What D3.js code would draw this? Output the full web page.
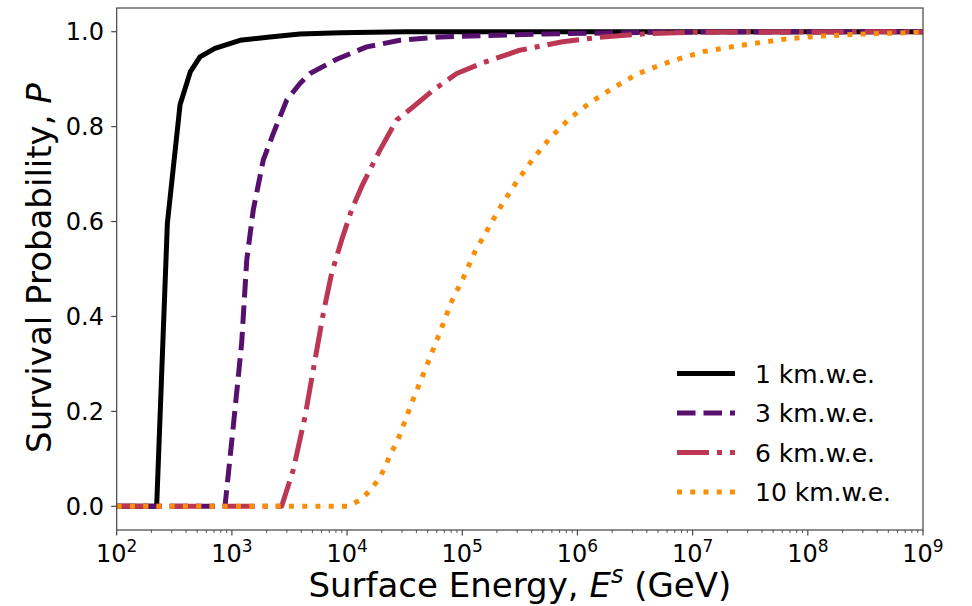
<!DOCTYPE html>
<html><head><meta charset="utf-8">
<script src="https://cdn.jsdelivr.net/npm/d3@7"></script>
<style>
html,body{margin:0;padding:0;background:#fff;}
svg{display:block;font-family:"DejaVu Sans",sans-serif;}
</style></head>
<body><svg id="c" width="972" height="606"></svg>
<script>
// ---- data (log10 of surface energy in GeV, survival probability) ----
const seriesNames = ["1 km.w.e.", "3 km.w.e.", "6 km.w.e.", "10 km.w.e."];
const logE_1 = [2, 2.25, 2.347, 2.44, 2.55, 2.64, 2.723, 2.853, 3.07, 3.33, 3.59, 3.94, 4.5, 9];
const p_1    = [0, 0,    0,     0.597,0.846,0.916,0.947, 0.965, 0.982,0.989,0.995,0.998,1.0, 1.0];
const logE_3 = [2, 2.94, 3.012, 3.085, 3.129, 3.186, 3.273, 3.36, 3.476, 3.591, 3.678, 3.91, 4.17, 4.459, 4.807, 5.675, 6.63, 9];
const p_3    = [0, 0,    0.168, 0.344, 0.519, 0.625, 0.73,  0.786,0.856, 0.891, 0.912, 0.942,0.968,0.982, 0.989, 0.995, 0.999, 1.0];
const logE_6 = [2, 3.432, 3.533, 3.635, 3.722, 3.794, 3.866, 3.953, 4.04, 4.127, 4.199, 4.286, 4.431, 4.575, 4.749, 4.952, 5.183, 5.5, 5.87, 6.22, 6.6, 7.0, 9];
const p_6    = [0, 0,     0.077, 0.189, 0.309, 0.407, 0.491, 0.561, 0.625,0.674, 0.709, 0.751, 0.814, 0.842, 0.877, 0.912, 0.935, 0.961,0.979,0.989,0.996,0.999,1.0];
const logE_10 = [2, 4.011, 4.112, 4.199, 4.271, 4.329, 4.373, 4.431, 4.474, 4.518, 4.561, 4.648, 4.735, 4.821, 4.908, 5.009, 5.111, 5.226, 5.342, 5.473, 5.617, 5.762, 5.935, 6.124, 6.326, 6.528, 6.803, 7.092, 7.44, 7.787, 8.106, 8.482, 8.872, 9.0];
const p_10    = [0, 0,     0.013, 0.033, 0.056, 0.081, 0.109, 0.134, 0.161, 0.189, 0.218, 0.270, 0.323, 0.376, 0.432, 0.481, 0.537, 0.586, 0.635, 0.684, 0.733, 0.776, 0.818, 0.853, 0.884, 0.912, 0.937, 0.958, 0.972, 0.984, 0.991, 0.995, 0.998, 0.999];
const xTickExps = [2, 3, 4, 5, 6, 7, 8, 9];
const yTicks = [0.0, 0.2, 0.4, 0.6, 0.8, 1.0];
const xLabelMain = "Surface Energy, ";
const yLabelMain = "Survival Probability, ";

// ---- styling ----
const colors = ["#000000", "#57106e", "#bc3754", "#f98e09"];
const dashes = [null, "18.5,8", "32,8,5,8", "5,8.25"];
const LW = 5;

const svg = d3.select("#c");
const L = 116.7, R = 923, T = 8, B = 530;
const x = d3.scaleLog().domain([1e2, 1e9]).range([L, R]);
const y = d3.scaleLinear().domain([-0.05, 1.05]).range([B, T]);

const series = [
  {logE: logE_1, p: p_1},
  {logE: logE_3, p: p_3},
  {logE: logE_6, p: p_6},
  {logE: logE_10, p: p_10}
];

svg.append("clipPath").attr("id","pc").append("rect")
  .attr("x", L).attr("y", T).attr("width", R-L).attr("height", B-T);

const line = d3.line().x(d => x(Math.pow(10, d[0]))).y(d => y(d[1]));
const g = svg.append("g").attr("clip-path","url(#pc)");
series.forEach((s, i) => {
  const pts = s.logE.map((v, k) => [v, s.p[k]]);
  g.append("path").attr("d", line(pts))
    .attr("fill","none").attr("stroke", colors[i]).attr("stroke-width", LW)
    .attr("stroke-linejoin","round")
    .attr("stroke-linecap", i===0 ? "square" : "butt")
    .attr("stroke-dasharray", dashes[i]);
});

// frame
const spine = "#444";
svg.append("rect").attr("x", L).attr("y", T).attr("width", R-L).attr("height", B-T)
  .attr("fill","none").attr("stroke", spine).attr("stroke-width", 1.2);

// x axis ticks
const minor = [];
for (let e = 2; e < 9; e++) for (let m = 2; m <= 9; m++) minor.push(m * Math.pow(10, e));
svg.selectAll(".mn").data(minor).enter().append("line")
  .attr("x1", d => x(d)).attr("x2", d => x(d)).attr("y1", B).attr("y2", B + 3)
  .attr("stroke", spine).attr("stroke-width", 0.9);
svg.selectAll(".mj").data(xTickExps).enter().append("line")
  .attr("x1", d => x(Math.pow(10,d))).attr("x2", d => x(Math.pow(10,d))).attr("y1", B).attr("y2", B + 5.5)
  .attr("stroke", spine).attr("stroke-width", 1.2);
const xt = svg.selectAll(".xt").data(xTickExps).enter().append("text")
  .attr("x", d => x(Math.pow(10,d))).attr("y", 562)
  .attr("text-anchor","middle").attr("font-size", 24).attr("fill","#000");
xt.append("tspan").text("10");
xt.append("tspan").attr("font-size", 17).attr("dy", -10).text(d => d);

// y axis ticks
svg.selectAll(".yt").data(yTicks).enter().append("line")
  .attr("x1", L - 5.5).attr("x2", L).attr("y1", d => y(d)).attr("y2", d => y(d))
  .attr("stroke", spine).attr("stroke-width", 1.2);
svg.selectAll(".ytl").data(yTicks).enter().append("text")
  .attr("x", 104).attr("y", d => y(d) + 8.5)
  .attr("text-anchor","end").attr("font-size", 24).attr("fill","#000")
  .text(d => d.toFixed(1));

// axis labels
const xl = svg.append("text").attr("x", (L+R)/2).attr("y", 597)
  .attr("text-anchor","middle").attr("font-size", 34).attr("fill","#000");
xl.append("tspan").text(xLabelMain);
xl.append("tspan").attr("font-style","italic").text("E");
xl.append("tspan").attr("font-size", 24).attr("font-style","italic").attr("dy", -14).text("s");
xl.append("tspan").attr("dy", 14).text(" (GeV)");

const yl = svg.append("text").attr("transform", "translate(51,268) rotate(-90)")
  .attr("text-anchor","middle").attr("font-size", 34).attr("fill","#000");
yl.append("tspan").text(yLabelMain);
yl.append("tspan").attr("font-style","italic").text("P");

// legend
const lg = svg.append("g");
seriesNames.forEach((name, i) => {
  const ly = 373.5 + i * 39.5;
  lg.append("line").attr("x1", 677).attr("x2", 735).attr("y1", ly).attr("y2", ly)
    .attr("stroke", colors[i]).attr("stroke-width", LW)
    .attr("stroke-dasharray", dashes[i]);
  lg.append("text").attr("x", 755).attr("y", ly + 9).attr("font-size", 25)
    .attr("fill","#000").text(name);
});
</script></body></html>
